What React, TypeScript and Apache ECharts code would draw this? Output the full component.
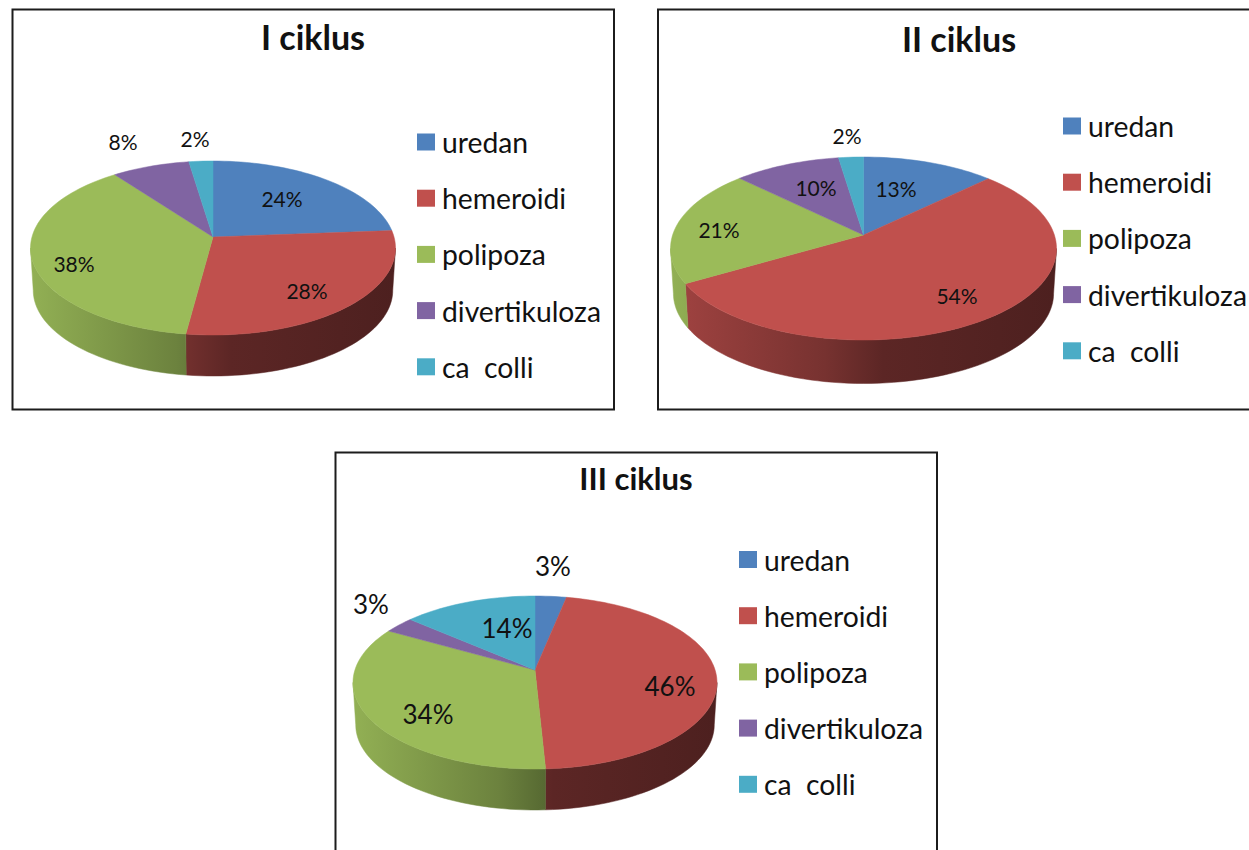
import React, { useEffect, useRef } from "react";
import * as echarts from "echarts";

const categories = ["uredan", "hemeroidi", "polipoza", "divertikuloza", "ca  colli"];
const cycleOne = [23.8, 28.3, 37.7, 7.8, 2.4];
const cycleTwo = [12.8, 53.8, 20.7, 10.3, 2.4];
const cycleThree = [3.2, 46, 34, 3.1, 13.7];
const titles = ["I ciklus", "II ciklus", "III ciklus"];

const palette = ["#4F81BD", "#C0504D", "#9BBB59", "#8064A2", "#4BACC6"];
const wallBoost = [1, 1, 1.12, 1, 1];
const FONT = "Lato";

// Geometry of each drawing, measured on the reference (not data).
const layouts = [
  {
    frame: [12.5, 9.5, 601.5, 400], titleX: 313, titleY: 19, titleSize: 34,
    cx: 213, cy: 237, up: 76, down: 98, rx: 182.5, wallBottom: 376,
    legendX: 417, legendY: 128, labelSize: 21,
    labels: [[282, 198], [307, 290], [74, 263], [123, 141], [195, 138]],
  },
  {
    frame: [658, 9.5, 640, 400], titleX: 959, titleY: 21, titleSize: 34,
    cx: 863.5, cy: 235, up: 78, down: 105, rx: 193, wallBottom: 383.5,
    legendX: 1063, legendY: 112, labelSize: 21,
    labels: [[896, 188], [957, 295], [719, 229], [816, 187], [847, 135]],
  },
  {
    frame: [335.5, 452.5, 601.5, 460], titleX: 636, titleY: 462, titleSize: 31,
    cx: 535, cy: 670, up: 74, down: 99, rx: 182, wallBottom: 810,
    legendX: 739, legendY: 545.5, labelSize: 26,
    labels: [[553, 566], [670, 686], [428, 714], [371, 604], [507, 628]],
  },
];
const cycles = [cycleOne, cycleTwo, cycleThree];

const BOTTOM_SCALE = 0.985;

function shade(hex: string, f: number) {
  const n = parseInt(hex.slice(1), 16);
  const ch = (v: number) => Math.max(0, Math.min(255, Math.round(v * f)));
  return `rgb(${ch((n >> 16) & 255)},${ch((n >> 8) & 255)},${ch(n & 255)})`;
}

function makeProjection(l: any) {
  const p = (l.down - l.up) / (l.down + l.up);
  const a = l.down * (1 - p);
  const b = l.rx * Math.sqrt(1 - p * p);
  const project = (theta: number) => {
    const u = Math.sin(theta);
    const v = -Math.cos(theta);
    const w = 1 / (1 - p * v);
    return [b * u * w, a * v * w];
  };
  return { p, project };
}

function arcSamples(from: number, to: number) {
  const steps = Math.max(2, Math.ceil((to - from) / (Math.PI / 90)));
  const out: number[] = [];
  for (let i = 0; i <= steps; i++) out.push(from + ((to - from) * i) / steps);
  return out;
}

function makeRender(chartIndex: number, sliceIndex: number) {
  return (_params: any, api: any) => {
    const l: any = layouts[chartIndex];
    const values = cycles[chartIndex];
    const total = values.reduce((s, v) => s + v, 0);
    const before = values.slice(0, sliceIndex).reduce((s, v) => s + v, 0);
    const value = api.value(0);
    const start = (before / total) * Math.PI * 2;
    const end = ((before + value) / total) * Math.PI * 2;
    const { p, project } = makeProjection(l);
    const color = palette[sliceIndex];
    const children: any[] = [];

    const depth = l.wallBottom - (l.cy + l.down * BOTTOM_SCALE);
    const visFrom = Math.acos(-p);
    const visTo = Math.PI * 2 - visFrom;
    const wFrom = Math.max(start, visFrom);
    const wTo = Math.min(end, visTo);
    if (wTo > wFrom) {
      const samples = arcSamples(wFrom, wTo);
      const top = samples.map((t) => {
        const [x, y] = project(t);
        return [l.cx + x, l.cy + y];
      });
      const bottom = samples
        .map((t) => {
          const [x, y] = project(t);
          return [l.cx + x * BOTTOM_SCALE, l.cy + y * BOTTOM_SCALE + depth];
        })
        .reverse();
      const boost = wallBoost[sliceIndex];
      const fill = new echarts.graphic.LinearGradient(
        l.cx - l.rx, 0, l.cx + l.rx, 0,
        [
          { offset: 0, color: shade(color, 0.84 * boost) },
          { offset: 0.4, color: shade(color, 0.62 * boost) },
          { offset: 0.55, color: shade(color, 0.48 * boost) },
          { offset: 1, color: shade(color, 0.4 * boost) },
        ],
        true
      );
      children.push({
        type: "polygon",
        shape: { points: top.concat(bottom) },
        style: { fill, stroke: fill, lineWidth: 0.5 },
      });
    }

    const pts = [[l.cx, l.cy]];
    arcSamples(start, end).forEach((t) => {
      const [x, y] = project(t);
      pts.push([l.cx + x, l.cy + y]);
    });
    children.push({
      type: "polygon",
      shape: { points: pts },
      style: { fill: color, stroke: color, lineWidth: 0.5 },
    });

    const [lx, ly] = l.labels[sliceIndex];
    children.push({
      type: "text",
      z2: 10,
      style: {
        text: `${Math.round(value)}%`, x: lx, y: ly, align: "center", verticalAlign: "middle",
        fontFamily: FONT, fontSize: l.labelSize, fill: "#111",
      },
    });
    return { type: "group", children };
  };
}

function buildOption() {
  const series: any[] = [];
  cycles.forEach((values, c) => {
    values.forEach((v, s) => {
      series.push({
        type: "custom",
        name: categories[s],
        coordinateSystem: "none",
        silent: true,
        clip: false,
        itemStyle: { color: palette[s] },
        data: [[v]],
        renderItem: makeRender(c, s),
      });
    });
  });
  return {
    animation: false,
    backgroundColor: "#fff",
    color: palette,
    title: layouts.map((l, i) => ({
      text: titles[i],
      left: l.titleX,
      top: l.titleY,
      textAlign: "center",
      padding: 0,
      textStyle: { fontFamily: FONT, fontWeight: "bold", fontSize: l.titleSize, color: "#111" },
    })),
    legend: layouts.map((l) => ({
      data: categories,
      orient: "vertical",
      left: l.legendX,
      top: l.legendY,
      padding: 0,
      icon: "rect",
      itemWidth: 18,
      itemHeight: 17,
      itemGap: 28.2,
      selectedMode: false,
      textStyle: {
        fontFamily: FONT, fontSize: 28.3, color: "#111", height: 17, lineHeight: 17,
        padding: [0, 0, 0, 2],
      },
    })),
    graphic: layouts.map((l) => ({
      type: "rect",
      silent: true,
      z: -1,
      shape: { x: l.frame[0], y: l.frame[1], width: l.frame[2], height: l.frame[3] },
      style: { fill: "none", stroke: "#1c1c1c", lineWidth: 2 },
    })),
    series,
  };
}

export default function App() {
  const ref = useRef<HTMLDivElement>(null);
  useEffect(() => {
    const chart = echarts.init(ref.current!, undefined, { renderer: "svg" });
    chart.setOption(buildOption() as any);
    return () => chart.dispose();
  }, []);
  return <div ref={ref} style={{ position: "absolute", left: 0, top: 0, width: 1249, height: 850, overflow: "hidden" }} />;
}
